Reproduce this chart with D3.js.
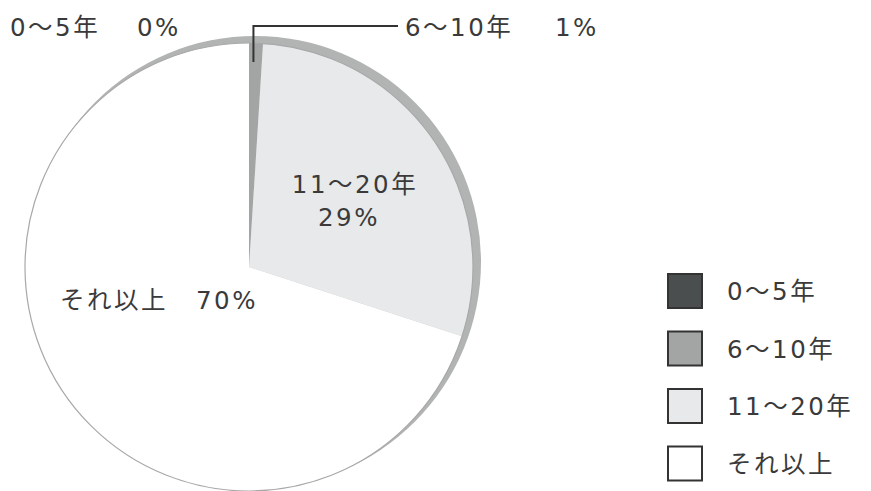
<!DOCTYPE html>
<html><head><meta charset="utf-8">
<script src="https://cdn.jsdelivr.net/npm/d3@7"></script>
<style>
html,body{margin:0;padding:0;background:#fff;}
svg{display:block;}
text{font-family:"DejaVu Sans","Noto Sans CJK JP",sans-serif;fill:#3a3a3a;font-size:24.5px;letter-spacing:2.5px;}
</style></head>
<body>
<svg id="chart" width="871" height="491"></svg>
<script>
const categories = ["0〜5年", "6〜10年", "11〜20年", "それ以上"];
const values = [0, 1, 29, 70];
const percentLabels = ["0%", "1%", "29%", "70%"];
const fills = ["#4b4e4e", "#a3a5a5", "#e7e9eb", "#ffffff"];

const svg = d3.select("#chart");
const cx = 249, cy = 267, R = 224;

const data = categories.map((c, i) => ({cat: c, value: values[i], pct: percentLabels[i], fill: fills[i]}));
const pie = d3.pie().sort(null).value(d => d.value).startAngle(0).endAngle(2 * Math.PI);
const arcs = pie(data);
const arc = d3.arc().innerRadius(0).outerRadius(R);

// depth band (3D edge)
svg.append("circle").attr("cx", cx + 6).attr("cy", cy - 5).attr("r", R + 2)
  .attr("fill", "#b2b4b4");

const g = svg.append("g").attr("transform", `translate(${cx},${cy})`);
g.selectAll("path.slice").data(arcs).enter().append("path")
  .attr("class", "slice")
  .attr("d", arc)
  .attr("fill", d => d.data.fill)
  .attr("stroke", "none");

// outline
g.append("circle").attr("r", R).attr("fill", "none").attr("stroke", "#a8a8a8").attr("stroke-width", 1.2);

// labels inside
const a2 = arcs[2], a3 = arcs[3];
const t2 = g.append("text").attr("text-anchor", "middle");
t2.append("tspan").attr("x", 106).attr("y", -74).text(a2.data.cat);
t2.append("tspan").attr("x", 100).attr("y", -41).text(a2.data.pct);

g.append("text").attr("x", -189).attr("y", 42).text(a3.data.cat);
g.append("text").attr("x", -53).attr("y", 42).text(a3.data.pct);

// outside labels
svg.append("text").attr("x", 10).attr("y", 36).text(data[0].cat);
svg.append("text").attr("x", 137).attr("y", 36).text(data[0].pct);
svg.append("text").attr("x", 405).attr("y", 36).text(data[1].cat);
svg.append("text").attr("x", 555).attr("y", 36).text(data[1].pct);

// leader line for 6~10
const mid1 = (arcs[1].startAngle + arcs[1].endAngle) / 2;
const lx = cx + Math.sin(mid1) * 205 - 2, ly = cy - Math.cos(mid1) * 205;
svg.append("polyline")
  .attr("points", `${lx},${ly} ${lx},26 398,26`)
  .attr("fill", "none").attr("stroke", "#333").attr("stroke-width", 2);

// legend
const leg = svg.append("g");
const rows = leg.selectAll("g").data(data).enter().append("g")
  .attr("transform", (d, i) => `translate(668,${274 + i * 57.5})`);
rows.append("rect").attr("width", 34).attr("height", 34)
  .attr("fill", d => d.fill).attr("stroke", "#333").attr("stroke-width", 2);
rows.append("text").attr("x", 59).attr("y", 26).text(d => d.cat);
</script>
</body></html>
